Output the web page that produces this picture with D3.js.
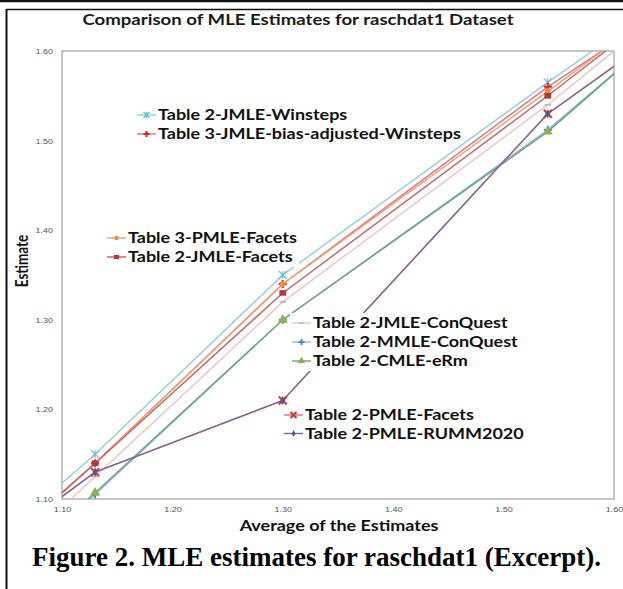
<!DOCTYPE html>
<html>
<head>
<meta charset="utf-8">
<script src="https://cdn.jsdelivr.net/npm/d3@7"></script>
<style>
  body { margin: 0; background: #fff; }
  svg { display: block; }
</style>
</head>
<body>
<div id="chart"></div>
<script>
// average of the estimates (x); first and last points lie outside the excerpt window
const avgEstimates = [1.05, 1.13, 1.30, 1.54, 1.65];

const jmleWinsteps      = [1.064, 1.15, 1.35, 1.565, 1.66];
const jmleBiasWinsteps  = [1.052, 1.14, 1.34, 1.56, 1.65];
const pmleFacets3       = [1.052, 1.14, 1.34, 1.555, 1.655];
const jmleFacets        = [1.052, 1.14, 1.33, 1.55, 1.655];
const jmleConQuest      = [1.033, 1.125, 1.32, 1.54, 1.65];
const mmleConQuest      = [1.016, 1.105, 1.30, 1.512, 1.628];
const cmleERm           = [1.018, 1.107, 1.30, 1.51, 1.628];
const pmleFacets2       = [1.057, 1.13, 1.21, 1.53, 1.627];
const pmleRumm          = [1.057, 1.13, 1.21, 1.53, 1.627];

const xTicks = [1.10, 1.20, 1.30, 1.40, 1.50, 1.60];
const yTicks = [1.10, 1.20, 1.30, 1.40, 1.50, 1.60];

const series = [
  { name: "Table 2-JMLE-Winsteps", values: jmleWinsteps, line: "#8ccfe0", mark: "#6cbcd4", shape: "asterisk" },
  { name: "Table 3-JMLE-bias-adjusted-Winsteps", values: jmleBiasWinsteps, line: "#e87070", mark: "#e8202a", shape: "plus" },
  { name: "Table 3-PMLE-Facets", values: pmleFacets3, line: "#f0a070", mark: "#f08c3c", shape: "circle" },
  { name: "Table 2-JMLE-Facets", values: jmleFacets, line: "#c86060", mark: "#b03a3a", shape: "square" },
  { name: "Table 2-JMLE-ConQuest", values: jmleConQuest, line: "#ecc4c4", mark: "#d8a8a8", shape: "dash" },
  { name: "Table 2-MMLE-ConQuest", values: mmleConQuest, line: "#90bcd8", mark: "#4a8cc8", shape: "plus" },
  { name: "Table 2-CMLE-eRm", values: cmleERm, line: "#6e9e86", mark: "#8db04a", shape: "triangle" },
  { name: "Table 2-PMLE-Facets", values: pmleFacets2, line: "#d07080", mark: "#e03030", shape: "x" },
  { name: "Table 2-PMLE-RUMM2020", values: pmleRumm, line: "#7e6a96", mark: "#4a5c9a", shape: "diamond" }
];

// legend blocks: series index per row, line-sample start and first row centre
const legendBlocks = [
  { rows: [0, 1], x: 137, y: 115, step: 19 },
  { rows: [2, 3], x: 107, y: 238, step: 19 },
  { rows: [4, 5, 6], x: 292, y: 323, step: 19 },
  { rows: [7, 8], x: 284, y: 415, step: 18.5 }
];

const W = 623, H = 589;
const margin = { left: 62, right: 614, top: 51, bottom: 499 };
const labelFont = "Lato, 'Open Sans', sans-serif";
const stretch = 1.2;   // the chart picture is widened relative to its text height

const svg = d3.select("#chart").append("svg")
  .attr("width", W).attr("height", H);

svg.append("rect").attr("width", W).attr("height", H).attr("fill", "#fff");

// page frame
svg.append("line").attr("x1", 0).attr("x2", W).attr("y1", 1).attr("y2", 1)
  .attr("stroke", "#111").attr("stroke-width", 2.5);
svg.append("line").attr("x1", 6).attr("x2", W).attr("y1", 9.5).attr("y2", 9.5)
  .attr("stroke", "#111").attr("stroke-width", 1.5);
svg.append("line").attr("x1", 6.5).attr("x2", 6.5).attr("y1", 9).attr("y2", H)
  .attr("stroke", "#111").attr("stroke-width", 2);

const x = d3.scaleLinear().domain([1.10, 1.60]).range([margin.left, margin.right]);
const y = d3.scaleLinear().domain([1.10, 1.60]).range([margin.bottom, margin.top]);

// plot border
svg.append("rect")
  .attr("x", margin.left).attr("y", margin.top)
  .attr("width", margin.right - margin.left).attr("height", margin.bottom - margin.top)
  .attr("fill", "none").attr("stroke", "#8c8c8c").attr("stroke-width", 1);

svg.append("clipPath").attr("id", "clip")
  .append("rect")
  .attr("x", margin.left).attr("y", margin.top)
  .attr("width", margin.right - margin.left).attr("height", margin.bottom - margin.top);

// axes (labels only)
const xAxis = svg.append("g")
  .attr("transform", `translate(0,${margin.bottom})`)
  .call(d3.axisBottom(x).tickValues(xTicks).tickFormat(d3.format(".2f")).tickSize(0).tickPadding(8));
const yAxis = svg.append("g")
  .attr("transform", `translate(${margin.left},0)`)
  .call(d3.axisLeft(y).tickValues(yTicks).tickFormat(d3.format(".2f")).tickSize(0).tickPadding(7.5));
[xAxis, yAxis].forEach(a => {
  a.select(".domain").remove();
  a.selectAll("text")
    .attr("fill", "#555")
    .attr("transform", `scale(${stretch},1)`)
    .style("font-family", "'Liberation Sans', Arial, sans-serif")
    .style("font-size", "7.5px");
});

const lineGen = (s) => d3.line()
  .x((d, i) => x(avgEstimates[i]))
  .y(d => y(d))(s.values);

const plot = svg.append("g").attr("clip-path", "url(#clip)");

plot.selectAll("path.series")
  .data(series)
  .join("path")
  .attr("class", "series")
  .attr("d", d => lineGen(d))
  .attr("fill", "none")
  .attr("stroke", d => d.line)
  .attr("stroke-width", 1.4);

function drawMarker(g, shape, color, cx, cy, r) {
  if (shape === "circle") {
    g.append("circle").attr("cx", cx).attr("cy", cy).attr("r", r * 0.75).attr("fill", color);
  } else if (shape === "square") {
    g.append("rect").attr("x", cx - r * 0.85).attr("y", cy - r * 0.7)
      .attr("width", r * 1.7).attr("height", r * 1.4).attr("fill", color);
  } else if (shape === "triangle") {
    g.append("path").attr("d", d3.symbol(d3.symbolTriangle, r * r * 2.6)())
      .attr("transform", `translate(${cx},${cy})`).attr("fill", color);
  } else if (shape === "diamond") {
    g.append("path").attr("d", d3.symbol(d3.symbolDiamond, r * r * 1.5)())
      .attr("transform", `translate(${cx},${cy})`).attr("fill", color);
  } else if (shape === "plus") {
    g.append("path").attr("d", `M${cx - r},${cy}H${cx + r}M${cx},${cy - r}V${cy + r}`)
      .attr("stroke", color).attr("stroke-width", 2);
  } else if (shape === "x") {
    g.append("path").attr("d", `M${cx - r},${cy - r}L${cx + r},${cy + r}M${cx - r},${cy + r}L${cx + r},${cy - r}`)
      .attr("stroke", color).attr("stroke-width", 2);
  } else if (shape === "asterisk") {
    g.append("path").attr("d", `M${cx - r},${cy - r}L${cx + r},${cy + r}M${cx - r},${cy + r}L${cx + r},${cy - r}M${cx},${cy - r}V${cy + r}`)
      .attr("stroke", color).attr("stroke-width", 1.2);
  } else if (shape === "dash") {
    g.append("path").attr("d", `M${cx - r * 0.8},${cy}H${cx + r * 0.8}`)
      .attr("stroke", color).attr("stroke-width", 1.5);
  }
}

// markers at the visible points
const marks = svg.append("g").attr("clip-path", "url(#clip)");
series.forEach(s => {
  s.values.forEach((v, i) => {
    const ax = avgEstimates[i];
    if (ax < 1.10 || ax > 1.60) return;
    drawMarker(marks, s.shape, s.mark, x(ax), y(v), 4);
  });
});

// legend blocks, each on a white box that hides the lines running under it
legendBlocks.forEach(b => {
  const g = svg.append("g");
  const bg = g.append("rect").attr("fill", "#fff");
  b.rows.forEach((idx, k) => {
    const s = series[idx];
    const ry = b.y + k * b.step;
    g.append("line")
      .attr("x1", b.x).attr("x2", b.x + 19)
      .attr("y1", ry).attr("y2", ry)
      .attr("stroke", s.line).attr("stroke-width", 1.4);
    drawMarker(g, s.shape, s.mark, b.x + 9.5, ry, 3);
    g.append("text")
      .attr("transform", `translate(${b.x + 21},${ry}) scale(${stretch},1)`)
      .attr("dy", "0.36em")
      .style("font-family", labelFont)
      .style("font-weight", 700)
      .style("font-size", "15px")
      .attr("fill", "#111")
      .text(s.name);
  });
  const bb = g.node().getBBox();
  bg.attr("x", bb.x - 2).attr("y", bb.y - 1)
    .attr("width", bb.width + 4).attr("height", bb.height + 2);
});

// titles
svg.append("text")
  .attr("transform", `translate(298,25) scale(${stretch},1)`)
  .attr("text-anchor", "middle")
  .style("font-family", labelFont).style("font-weight", 700).style("font-size", "15.5px")
  .attr("fill", "#1a1a1a")
  .text("Comparison of MLE Estimates for raschdat1 Dataset");

svg.append("text")
  .attr("transform", `translate(339,531) scale(${stretch},1)`)
  .attr("text-anchor", "middle")
  .style("font-family", labelFont).style("font-weight", 700).style("font-size", "15px")
  .attr("fill", "#111")
  .text("Average of the Estimates");

svg.append("text")
  .attr("transform", `translate(28,261) scale(${stretch},1) rotate(-90)`)
  .attr("text-anchor", "middle")
  .style("font-family", labelFont).style("font-weight", 700).style("font-size", "13.5px")
  .attr("fill", "#111")
  .text("Estimate");

svg.append("text")
  .attr("x", 32).attr("y", 566)
  .style("font-family", "'Liberation Serif', 'Times New Roman', serif")
  .style("font-weight", 700).style("font-size", "27px")
  .attr("fill", "#000")
  .text("Figure 2. MLE estimates for raschdat1 (Excerpt).");
</script>
</body>
</html>
